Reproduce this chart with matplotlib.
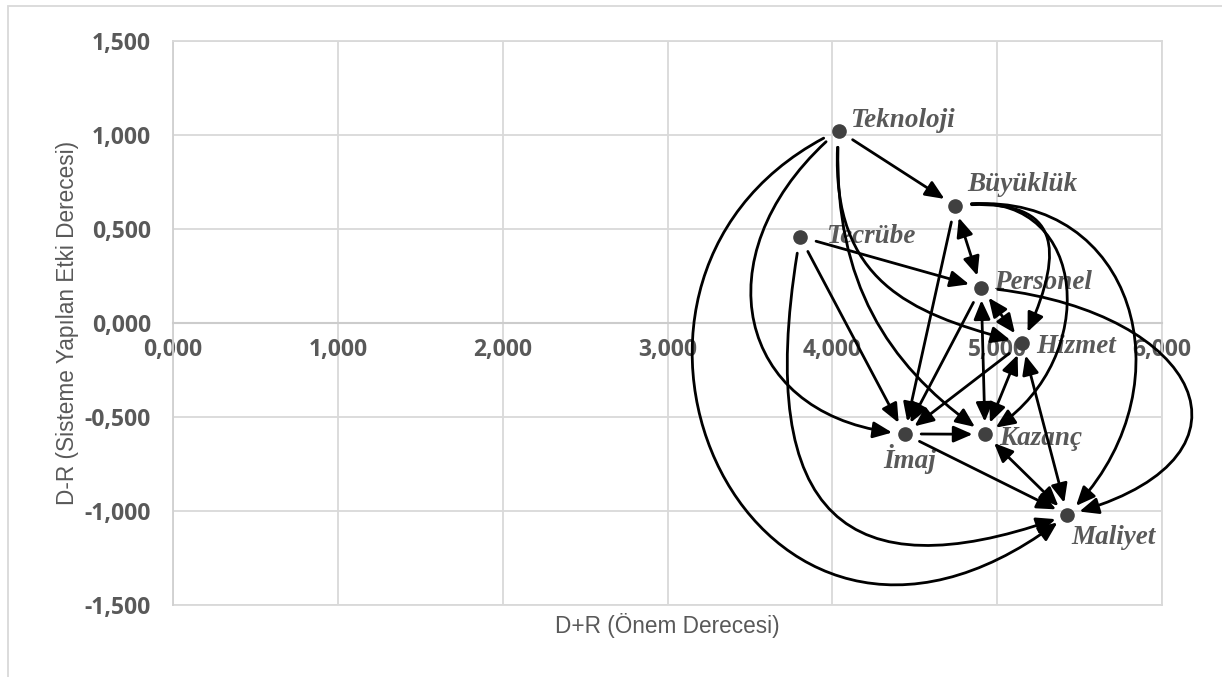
import numpy as np
import matplotlib
matplotlib.use("Agg")
import matplotlib.pyplot as plt
from matplotlib.patches import ConnectionStyle, FancyArrowPatch, Rectangle
from matplotlib.path import Path
from matplotlib.ticker import FuncFormatter, MultipleLocator

# DEMATEL results
factors = ["Teknoloji", "Büyüklük", "Tecrübe", "Personel",
           "Hizmet", "İmaj", "Kazanç", "Maliyet"]
d_plus_r = [4.038, 4.744, 3.804, 4.903, 5.153, 4.438, 4.927, 5.426]
d_minus_r = [1.023, 0.624, 0.459, 0.188, -0.108, -0.590, -0.592, -1.021]

# influence relations
one_way = [
    ("Teknoloji", "Büyüklük"),
    ("Teknoloji", "Hizmet"),
    ("Teknoloji", "Kazanç"),
    ("Teknoloji", "İmaj"),
    ("Teknoloji", "Maliyet"),
    ("Tecrübe", "Personel"),
    ("Tecrübe", "İmaj"),
    ("Tecrübe", "Maliyet"),
    ("Büyüklük", "İmaj"),
    ("Büyüklük", "Hizmet"),
    ("Büyüklük", "Kazanç"),
    ("Büyüklük", "Maliyet"),
    ("Personel", "İmaj"),
    ("Personel", "Maliyet"),
    ("Hizmet", "İmaj"),
    ("İmaj", "Kazanç"),
    ("İmaj", "Maliyet"),
]
two_way = [
    ("Büyüklük", "Personel"),
    ("Personel", "Hizmet"),
    ("Personel", "Kazanç"),
    ("Hizmet", "Kazanç"),
    ("Hizmet", "Maliyet"),
    ("Kazanç", "Maliyet"),
]

# curved links: (leaving angle, arriving angle, pull at start, pull at end)
curve_shapes = {
    ("Teknoloji", "Maliyet"): (205, 38, 0.75, 0.9),
    ("Teknoloji", "İmaj"): (220, -5, 0.6, 0.55),
    ("Teknoloji", "Kazanç"): (-93, -35, 0.45, 0.35),
    ("Teknoloji", "Hizmet"): (-95, -15, 0.55, 0.4),
    ("Tecrübe", "Maliyet"): (260, 20, 0.75, 0.6),
    ("Büyüklük", "Hizmet"): (5, -115, 0.7, 0.7),
    ("Büyüklük", "Kazanç"): (10, -150, 0.6, 0.6),
    ("Büyüklük", "Maliyet"): (8, -135, 0.55, 0.55),
    ("Personel", "Maliyet"): (-5, 195, 0.9, 0.9),
}

# label placement next to each point (points, alignment)
label_offsets = {
    "Teknoloji": (8, 7, "left"),
    "Büyüklük": (9, 15, "left"),
    "Tecrübe": (19, 0, "left"),
    "Personel": (9, 4, "left"),
    "Hizmet": (10, -2, "left"),
    "İmaj": (4, -18, "center"),
    "Kazanç": (10, -3, "left"),
    "Maliyet": (3, -16, "left"),
}

GRID = "#d9d9d9"
TEXT = "#595959"

plt.rcParams["font.family"] = ["Open Sans", "DejaVu Sans"]
plt.rcParams["font.weight"] = "bold"


class Bend(ConnectionStyle._Base):
    """Cubic curve leaving / arriving at fixed angles (degrees)."""

    def __init__(self, out_deg, in_deg, k_out, k_in):
        self.out_deg = out_deg
        self.in_deg = in_deg
        self.k_out = k_out
        self.k_in = k_in

    def connect(self, posA, posB):
        x0, y0 = posA
        x3, y3 = posB
        length = np.hypot(x3 - x0, y3 - y0)
        a = np.radians(self.out_deg)
        b = np.radians(self.in_deg)
        p1 = (x0 + self.k_out * length * np.cos(a),
              y0 + self.k_out * length * np.sin(a))
        p2 = (x3 - self.k_in * length * np.cos(b),
              y3 - self.k_in * length * np.sin(b))
        return Path([posA, p1, p2, posB],
                    [Path.MOVETO, Path.CURVE4, Path.CURVE4, Path.CURVE4])


def tr_number(v, pos):
    return f"{v:.3f}".replace(".", ",")


fig = plt.figure(figsize=(12.22, 6.77), dpi=100)
fig.add_artist(Rectangle((8 / 1222, -0.05), 1.1, 1.05 - 6 / 677,
                         transform=fig.transFigure, fill=False,
                         edgecolor=GRID, linewidth=1.3))

ax = fig.add_axes([173 / 1222, 72 / 677, 989 / 1222, 564 / 677])
ax.set_xlim(0, 6)
ax.set_ylim(-1.5, 1.5)
ax.xaxis.set_major_locator(MultipleLocator(1))
ax.yaxis.set_major_locator(MultipleLocator(0.5))
ax.xaxis.set_major_formatter(FuncFormatter(tr_number))
ax.yaxis.set_major_formatter(FuncFormatter(tr_number))
ax.grid(color=GRID, linewidth=1.3)
ax.set_axisbelow(True)

ax.spines["bottom"].set_position(("data", 0))
ax.spines["bottom"].set_color("#cccccc")
ax.spines["bottom"].set_linewidth(1.5)
ax.spines["left"].set_color("#d0d0d0")
ax.spines["left"].set_linewidth(1.3)
for side in ["top", "right"]:
    ax.spines[side].set_color(GRID)
    ax.spines[side].set_linewidth(1.3)
ax.axhline(-1.5, color=GRID, linewidth=1.3, clip_on=False, zorder=0)

ax.tick_params(length=0, labelsize=16.5, labelcolor=TEXT)
ax.tick_params(axis="x", pad=11)
ax.tick_params(axis="y", pad=16)

ax.set_xlabel("D+R (Önem Derecesi)", fontsize=16.3, color=TEXT,
              fontfamily="Liberation Sans", fontweight="normal")
ax.set_ylabel("D-R (Sisteme Yapılan Etki Derecesi)", fontsize=16.3,
              color=TEXT, fontfamily="Liberation Sans", fontweight="normal")
ax.xaxis.set_label_coords(0.5, -0.015)
ax.yaxis.set_label_coords(-0.095, 0.5)

ax.plot(d_plus_r, d_minus_r, "o", color="#404040", markersize=9.5, zorder=3)

for name, x, y in zip(factors, d_plus_r, d_minus_r):
    dx, dy, ha = label_offsets[name]
    ax.annotate(name, (x, y), xytext=(dx, dy), textcoords="offset points",
                ha=ha, va="center", fontsize=19.5, color=TEXT,
                fontfamily="Liberation Serif", fontweight="bold",
                fontstyle="italic", zorder=4)

pos = dict(zip(factors, zip(d_plus_r, d_minus_r)))


def draw_link(src, dst, both_ends):
    if (src, dst) in curve_shapes:
        style = Bend(*curve_shapes[(src, dst)])
    else:
        style = "arc3,rad=0"
    head = "head_length=1.15,head_width=0.5"
    arrow = FancyArrowPatch(
        pos[src], pos[dst],
        arrowstyle=("<|-|>," if both_ends else "-|>,") + head,
        connectionstyle=style,
        mutation_scale=10,
        shrinkA=9 if both_ends else 12,
        shrinkB=9,
        color="black",
        linewidth=2.0,
        clip_on=False,
        zorder=5,
    )
    ax.add_patch(arrow)


for src, dst in one_way:
    draw_link(src, dst, False)
for src, dst in two_way:
    draw_link(src, dst, True)

fig.savefig("out.png", dpi=100)
